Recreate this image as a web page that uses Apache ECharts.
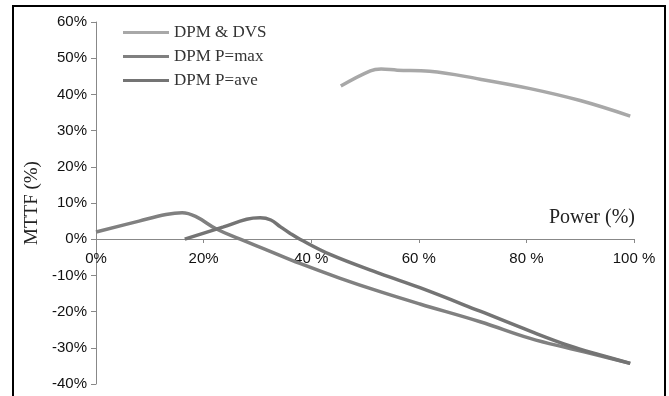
<!DOCTYPE html>
<html>
<head>
<meta charset="utf-8">
<script src="https://cdn.jsdelivr.net/npm/echarts@6/dist/echarts.min.js"></script>
<style>
  html, body { margin: 0; padding: 0; background: #fff; }
  #chart { width: 669px; height: 396px; }
</style>
</head>
<body>
<div id="chart"></div>
<script>
// power (%) and MTTF change (%)
const dvsPower = [45.5, 51, 53, 56, 62, 71.4, 80.7, 90, 99.3]
const dvsMttf = [42.3, 46.5, 47, 46.7, 46.4, 44.2, 41.6, 38.3, 34]

const maxPower = [0, 8, 13, 16, 18.5, 22.4, 26.8, 31.8, 37.9, 45.4, 52.8, 60.2, 71.4, 80.7, 88.1, 93.7, 99.3]
const maxMttf = [2, 5, 6.8, 7.3, 6.3, 2.8, 0, -3, -6.7, -10.8, -14.5, -17.9, -22.8, -27.4, -30.2, -32.2, -34.3]

const avePower = [16.5, 23.7, 28, 30.5, 32.5, 34.3, 36.1, 37.9, 43.5, 52.8, 60.2, 71.4, 80.7, 88.1, 93.7, 99.3]
const aveMttf = [0, 3.4, 5.5, 5.9, 5.3, 3.4, 1.6, 0, -4.2, -9.5, -13.4, -19.9, -25.4, -29.5, -32, -34.3]

const names = ['DPM & DVS', 'DPM P=max', 'DPM P=ave']
const colors = ['#a8a8a8', '#808080', '#747474']

const pairs = (xs, ys) => xs.map((x, i) => [x, ys[i]])

const chart = echarts.init(document.getElementById('chart'))

const serif = '"Liberation Serif", "DejaVu Serif", serif'
const sans = '"Liberation Sans", Arial, sans-serif'

const line = (name, data, color) => ({
  name,
  type: 'line',
  data,
  smooth: 0.4,
  showSymbol: false,
  symbol: 'none',
  lineStyle: { color, width: 3.5 },
  itemStyle: { color }
})

chart.setOption({
  animation: false,
  grid: { left: 96, right: 35, top: 22, bottom: 12, outerBoundsMode: 'none' },
  legend: {
    orient: 'vertical',
    left: 123,
    top: 24,
    padding: 0,
    icon: 'rect',
    itemWidth: 46,
    itemHeight: 3,
    itemGap: 7,
    data: names,
    textStyle: { fontFamily: serif, fontSize: 17, color: '#333', lineHeight: 17 }
  },
  xAxis: {
    type: 'value',
    min: 0,
    max: 100,
    interval: 20,
    offset: -145,
    splitLine: { show: false },
    axisLine: { onZero: false, lineStyle: { color: '#888', width: 1 } },
    axisTick: { show: true, length: 4, lineStyle: { color: '#888' } },
    axisLabel: {
      margin: 12,
      fontFamily: sans,
      fontSize: 15,
      color: '#111',
      formatter: v => (v <= 20 ? v + '%' : v + ' %')
    }
  },
  yAxis: {
    type: 'value',
    min: -40,
    max: 60,
    interval: 10,
    name: 'MTTF (%)',
    nameLocation: 'middle',
    nameGap: 48,
    nameRotate: 90,
    nameTextStyle: { fontFamily: serif, fontSize: 19, color: '#222' },
    splitLine: { show: false },
    axisLine: { show: true, lineStyle: { color: '#888', width: 1 } },
    axisTick: { show: true, length: 5, lineStyle: { color: '#888' } },
    axisLabel: {
      margin: 9,
      fontFamily: sans,
      fontSize: 15,
      color: '#111',
      formatter: '{value}%'
    }
  },
  graphic: [
    {
      type: 'rect',
      shape: { x: 13, y: 6, width: 652, height: 400 },
      style: { fill: 'none', stroke: '#000', lineWidth: 2 },
      silent: true
    },
    {
      type: 'text',
      right: 34,
      top: 208,
      style: { text: 'Power (%)', font: '20px ' + serif, fill: '#222' }
    }
  ],
  series: [
    line(names[0], pairs(dvsPower, dvsMttf), colors[0]),
    line(names[1], pairs(maxPower, maxMttf), colors[1]),
    line(names[2], pairs(avePower, aveMttf), colors[2])
  ]
})
</script>
</body>
</html>
